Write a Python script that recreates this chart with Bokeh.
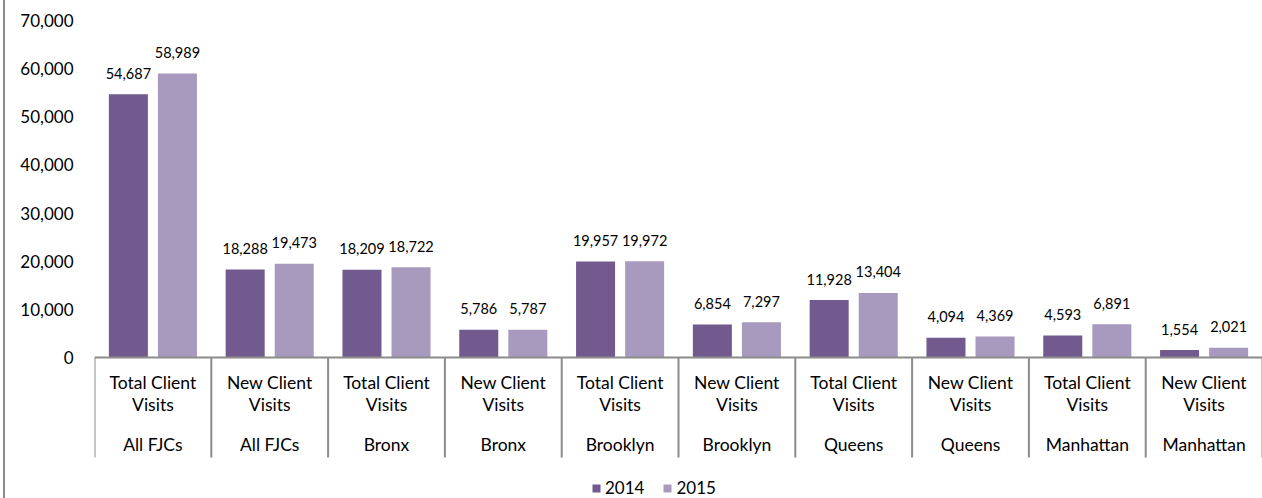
import numpy as np
from bokeh.plotting import figure
from bokeh.models import (Range1d, FixedTicker, NumeralTickFormatter, Legend, LegendItem,
                          ColumnDataSource, Div)
from bokeh.layouts import row
from bokeh.core.properties import value
from bokeh.embed import file_html
from bokeh.resources import INLINE

# ---- data ----
cat_line1 = ["Total Client", "New Client"] * 5
cat_line2 = ["Visits"] * 10
locations = ["All FJCs", "All FJCs", "Bronx", "Bronx", "Brooklyn", "Brooklyn",
             "Queens", "Queens", "Manhattan", "Manhattan"]
v2014 = [54687, 18288, 18209, 5786, 19957, 6854, 11928, 4094, 4593, 1554]
v2015 = [58989, 19473, 18722, 5787, 19972, 7297, 13404, 4369, 6891, 2021]
years = ["2014", "2015"]
y_ticks = [0, 10000, 20000, 30000, 40000, 50000, 60000, 70000]

C14 = "#72598E"
C15 = "#A899BE"
GRAY = "#8C8C8C"
FONT = "Lato"

n = len(v2014)
centers = np.arange(n) + 0.5
off = 0.21
bw = 0.334

# pixel geometry helpers (frame from px 0 to 498 vertically)
H = 498
base_px = 357.0
top_px = 20.0
per_px = 70000 / (base_px - top_px)
def ydata(px):
    return (base_px - px) * per_px

W_TOTAL = 1262
DIV_W = 2
DIV_ML = 3
PW = W_TOTAL - DIV_W - DIV_ML

p = figure(width=PW, height=H, output_backend="svg", toolbar_location=None,
           x_range=Range1d(0, n), y_range=Range1d(ydata(H), ydata(0)),
           x_axis_location=None, min_border_left=94 - DIV_W - DIV_ML,
           min_border_right=0, min_border_top=0, min_border_bottom=0)
p.outline_line_color = None
p.xgrid.visible = False
p.ygrid.visible = False
p.background_fill_color = "white"
p.border_fill_color = "white"

ax = p.yaxis[0]
ax.ticker = FixedTicker(ticks=y_ticks)
ax.formatter = NumeralTickFormatter(format="0,0")
ax.axis_line_color = None
ax.major_tick_line_color = None
ax.minor_tick_line_color = None
ax.major_label_text_font = FONT
ax.major_label_text_font_size = "17px"
ax.major_label_text_color = "#000000"
ax.major_label_standoff = 15

src = ColumnDataSource(dict(
    x14=centers - off, x15=centers + off, v14=v2014, v15=v2015,
    l14=[f"{v:,}" for v in v2014], l15=[f"{v:,}" for v in v2015],
    xc=centers, c1=cat_line1, c2=cat_line2, loc=locations,
))

r14 = p.vbar(x="x14", top="v14", width=bw, bottom=0, source=src,
             fill_color=C14, line_color=None)
r15 = p.vbar(x="x15", top="v15", width=bw, bottom=0, source=src,
             fill_color=C15, line_color=None)

for xcol, ycol, lcol in (("x14", "v14", "l14"), ("x15", "v15", "l15")):
    p.text(x=xcol, y=ycol, text=lcol, source=src, text_align="center",
           text_baseline="middle", y_offset=-21, text_font=value(FONT),
           text_font_size="14.5px", text_color="#000000")

# baseline and separators
p.segment(x0=[0], y0=[0], x1=[n], y1=[0], line_color=GRAY, line_width=2)
sep_x = np.arange(n + 1)
p.segment(x0=sep_x, y0=[0] * (n + 1), x1=sep_x, y1=[ydata(457)] * (n + 1),
          line_color=GRAY, line_width=2)

# category labels
for col, px in (("c1", 382), ("c2", 404), ("loc", 444)):
    p.text(x="xc", y=ydata(px), text=col, source=src, text_align="center",
           text_baseline="middle", text_font=value(FONT), text_font_size="17.5px",
           text_color="#000000")

legend = Legend(items=[LegendItem(label=years[0], renderers=[r14]),
                       LegendItem(label=years[1], renderers=[r15])],
                orientation="horizontal", location=(497, 0),
                glyph_width=10, glyph_height=10, label_standoff=4, spacing=18,
                padding=0, margin=0, border_line_color=None,
                background_fill_alpha=0, label_text_font=FONT,
                label_text_font_size="17px", label_text_color="#000000")
p.add_layout(legend, "center")

left_line = Div(text="", width=DIV_W, height=H, margin=(0, 0, 0, DIV_ML),
                styles={"background-color": GRAY})

layout = row(left_line, p, spacing=0)
open("out.html", "w").write(file_html(layout, INLINE))
